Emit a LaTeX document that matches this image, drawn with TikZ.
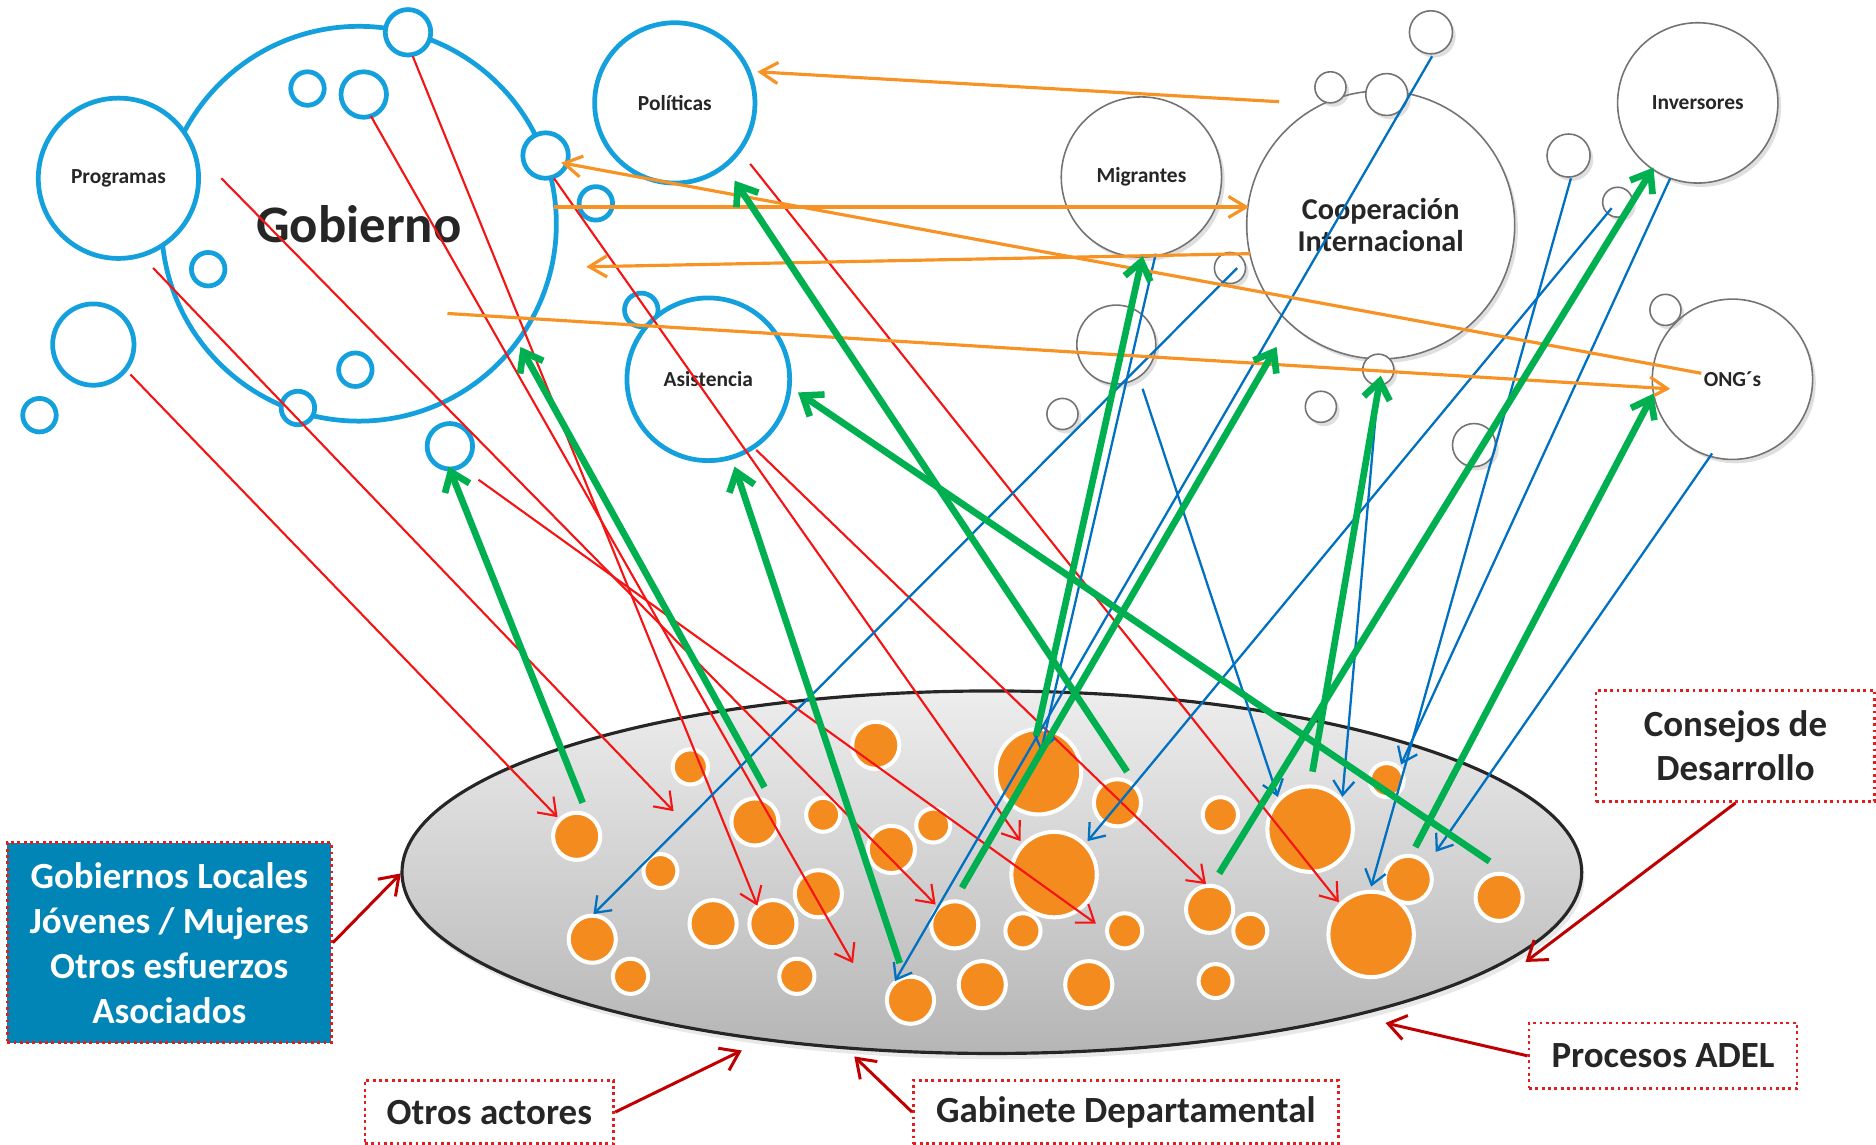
\documentclass[tikz,border=0pt]{standalone}
\usepackage{fontspec}
\setmainfont{Carlito}
\usetikzlibrary{arrows.meta,shapes.geometric,shadows}
\definecolor{cblue}{RGB}{20,160,220}
\definecolor{orF}{RGB}{243,139,31}
\definecolor{orL}{RGB}{247,146,36}
\definecolor{redL}{RGB}{245,20,20}
\definecolor{grL}{RGB}{0,176,80}
\definecolor{blL}{RGB}{0,112,192}
\definecolor{dred}{RGB}{192,0,0}
\definecolor{boxblue}{RGB}{0,133,182}
\definecolor{txt}{RGB}{38,38,38}
\definecolor{gline}{RGB}{115,115,115}
\definecolor{dotred}{RGB}{225,30,30}
\tikzset{
 lbl/.style={text=txt,font=\bfseries\fontsize{6.1}{7}\selectfont},
 bcirc/.style={circle,draw=cblue,line width=1.35pt,fill=white,inner sep=0pt,minimum size={2*#1*0.011964cm},lbl},
 gcirc/.style={circle,draw=gline,line width=0.45pt,fill=white,inner sep=0pt,minimum size={2*#1*0.011964cm},
   drop shadow={shadow xshift=0.9pt,shadow yshift=-1.1pt,opacity=0.25},lbl},
 ocirc/.style={circle,fill=orF,draw=white,line width=1.15pt,inner sep=0pt,minimum size={(2*#1+3.4)*0.011964cm}},
 tbox/.style={draw=dotred,densely dotted,line width=0.8pt,fill=white,text=txt,align=center,inner sep=0pt,
   font=\bfseries\fontsize{10.5}{12.6}\selectfont},
 redarr/.style={draw=redL,line width=0.6pt,-{Straight Barb[length=4.5pt,width=6.5pt]}},
 bluarr/.style={draw=blL,line width=0.65pt,-{Straight Barb[length=4pt,width=6pt]}},
 orarr/.style={draw=orL,line width=0.9pt,-{Straight Barb[length=5pt,width=6pt]}},
 grarr/.style={draw=grL,line width=1.9pt,-{Straight Barb[length=5pt,width=7.5pt]}},
 drarr/.style={draw=dred,line width=0.85pt,-{Straight Barb[length=5pt,width=7pt]}},
}
\begin{document}
\begin{tikzpicture}[x=0.011964cm,y=-0.011964cm]
\path[use as bounding box] (0,0) rectangle (1568,957);

% ---------- grey (external) circles ----------
\node[gcirc=67] (mig) at (954,148) {Migrantes};
\node[gcirc=112,font=\bfseries\fontsize{8.6}{9.2}\selectfont,align=center] (coop) at (1154,188) {Cooperación\\Internacional};
\node[gcirc=67] (inv) at (1419,86) {Inversores};
\node[gcirc=67] (ong) at (1448,317) {ONG´s};
\node[gcirc=18] (gs1) at (1196,27) {};
\node[gcirc=13] (gs2) at (1112,73) {};
\node[gcirc=17.5] (gs3) at (1159,79) {};
\node[gcirc=18] (gs4) at (1311,130) {};
\node[gcirc=12.5] (gs5) at (1352,169) {};
\node[gcirc=13] (gs6) at (1028,224) {};
\node[gcirc=33] (gs7) at (933,288) {};
\node[gcirc=13] (gs8) at (888,346) {};
\node[gcirc=13] (gs9) at (1152,309) {};
\node[gcirc=13] (gs10) at (1104,340) {};
\node[gcirc=13] (gs11) at (1392,259) {};
\node[gcirc=18] (gs12) at (1232,372) {};

% ---------- blue (government) circles ----------
\node[bcirc=165,font=\bfseries\fontsize{15}{18}\selectfont] (gob) at (300,187) {Gobierno};
\node[bcirc=67] (prog) at (99,149) {Programas};
\node[bcirc=19] (bs1) at (341,27) {};
\node[bcirc=14] (bs2) at (257,74) {};
\node[bcirc=19] (bs3) at (304,79) {};
\node[bcirc=19] (bs4) at (456,130) {};
\node[bcirc=14] (bs5) at (498,170) {};
\node[bcirc=14] (bs6) at (174,225) {};
\node[bcirc=34] (bs7) at (78,288) {};
\node[bcirc=14] (bs8) at (33,347) {};
\node[bcirc=14] (bs9) at (297,309) {};
\node[bcirc=14] (bs10) at (249,341) {};
\node[bcirc=19] (bs11) at (376,373) {};
\node[bcirc=14] (bs12) at (536,259) {};
\node[bcirc=67] (pol) at (564,86) {Políticas};
\node[bcirc=68] (asis) at (592,317) {Asistencia};

% ---------- territory ellipse ----------
\node[ellipse,draw=black!85,line width=0.9pt,top color=black!7,bottom color=black!29,
  minimum width={986*0.011964cm},minimum height={303*0.011964cm},inner sep=0pt,
  drop shadow={shadow xshift=0.8pt,shadow yshift=-1.6pt,opacity=0.18}] (ell) at (829,729) {};

% ---------- orange local actors ----------
\node[ocirc=18] (o1) at (482,699) {};
\node[ocirc=13] (o2) at (577,641) {};
\node[ocirc=12.5] (o3) at (552,728) {};
\node[ocirc=18] (o4) at (495,785) {};
\node[ocirc=13] (o5) at (527,816) {};
\node[ocirc=18] (o6) at (631,687) {};
\node[ocirc=12.5] (o7) at (688,681) {};
\node[ocirc=18] (o8) at (732,623) {};
\node[ocirc=18] (o9) at (745,710) {};
\node[ocirc=12.5] (o10) at (780,690) {};
\node[ocirc=18] (o11) at (684,747) {};
\node[ocirc=18] (o12) at (596,772) {};
\node[ocirc=18] (o13) at (646,772) {};
\node[ocirc=13] (o14) at (666,816) {};
\node[ocirc=18] (o15) at (761,836) {};
\node[ocirc=18] (o16) at (821,823) {};
\node[ocirc=18] (o17) at (798,773) {};
\node[ocirc=13] (o18) at (855,778) {};
\node[ocirc=34] (o19) at (868,645) {};
\node[ocirc=34] (o20) at (881,731) {};
\node[ocirc=18] (o21) at (934,671) {};
\node[ocirc=13] (o22) at (940,778) {};
\node[ocirc=18] (o23) at (910,823) {};
\node[ocirc=13] (o24) at (1020,681) {};
\node[ocirc=18] (o25) at (1011,760) {};
\node[ocirc=12.5] (o26) at (1045,778) {};
\node[ocirc=12.5] (o27) at (1016,820) {};
\node[ocirc=34] (o28) at (1095,693) {};
\node[ocirc=34] (o29) at (1146,781) {};
\node[ocirc=12.5] (o30) at (1159,652) {};
\node[ocirc=18] (o31) at (1177,735) {};
\node[ocirc=18] (o32) at (1253,750) {};

% ---------- labelled boxes ----------
\node[tbox,fill=boxblue,text=white,minimum width={271*0.011964cm},minimum height={167*0.011964cm},
  font=\bfseries\fontsize{10.5}{12.8}\selectfont] (gl) at (141.5,788) {Gobiernos Locales\\Jóvenes / Mujeres\\Otros esfuerzos\\Asociados};
\node[tbox,minimum width={233*0.011964cm},minimum height={93*0.011964cm}] (cons) at (1450.5,623.5) {Consejos de\\Desarrollo};
\node[tbox,minimum width={224*0.011964cm},minimum height={55*0.011964cm}] (proc) at (1390,882.5) {Procesos ADEL};
\node[tbox,minimum width={355*0.011964cm},minimum height={53*0.011964cm}] (gab) at (941,929.5) {Gabinete Departamental};
\node[tbox,minimum width={208*0.011964cm},minimum height={53*0.011964cm}] (otr) at (409,929.5) {Otros actores};

% ---------- connector end points ----------
\coordinate (r1a) at (109,313);  \coordinate (r1b) at (466,683);
\coordinate (r2a) at (128,224);  \coordinate (r2b) at (563,678);
\coordinate (r3a) at (185,149);  \coordinate (r3b) at (782,756);
\coordinate (r4a) at (310,97);   \coordinate (r4b) at (713,805);
\coordinate (r5a) at (345,47);   \coordinate (r5b) at (633,757);
\coordinate (r6a) at (463,149);  \coordinate (r6b) at (853,703);
\coordinate (r7a) at (400,401);  \coordinate (r7b) at (916,772);
\coordinate (r8a) at (632,376);  \coordinate (r8b) at (1008,739);
\coordinate (r9a) at (627,137);  \coordinate (r9b) at (1119,754);

\coordinate (u1a) at (1197,47);  \coordinate (u1b) at (748,820);
\coordinate (u2a) at (1034,224); \coordinate (u2b) at (496,764);
\coordinate (u3a) at (966,212);  \coordinate (u3b) at (870,628);
\coordinate (u4a) at (955,325);  \coordinate (u4b) at (1068,666);
\coordinate (u5a) at (1313,149); \coordinate (u5b) at (1146,741);
\coordinate (u6a) at (1347,174); \coordinate (u6b) at (909,703);
\coordinate (u7a) at (1396,149); \coordinate (u7b) at (1171,639);
\coordinate (u8a) at (1431,379); \coordinate (u8b) at (1200,712);
\coordinate (u9a) at (1152,322); \coordinate (u9b) at (1122,666);

\coordinate (p1a) at (1069,85);  \coordinate (p1b) at (633,60);
\coordinate (p2a) at (463,173);  \coordinate (p2b) at (1044,173);
\coordinate (p3a) at (1045,212); \coordinate (p3b) at (490,223);
\coordinate (p4a) at (1422,312); \coordinate (p4b) at (469,136);
\coordinate (p5a) at (374,262);  \coordinate (p5b) at (1396,325);

\coordinate (g1a) at (487,671);  \coordinate (g1b) at (375,390);
\coordinate (g2a) at (639,658);  \coordinate (g2b) at (435,290);
\coordinate (g3a) at (752,805);  \coordinate (g3b) at (614,390);
\coordinate (g4a) at (942,645);  \coordinate (g4b) at (614,151);
\coordinate (g5a) at (1245,720); \coordinate (g5b) at (667,328);
\coordinate (g6a) at (866,615);  \coordinate (g6b) at (955,214);
\coordinate (g7a) at (804,742);  \coordinate (g7b) at (1067,290);
\coordinate (g8a) at (1097,645); \coordinate (g8b) at (1154,314);
\coordinate (g9a) at (1019,730); \coordinate (g9b) at (1382,140);
\coordinate (g10a) at (1183,708);\coordinate (g10b) at (1382,329);

\coordinate (d1b) at (335,730);
\coordinate (d2b) at (620,878);
\coordinate (d3b) at (714,883);
\coordinate (d4b) at (1158,855);
\coordinate (d5b) at (1275,804);

% ---------- connectors ----------
\foreach \i in {1,...,9} {\draw[redarr] (r\i a) -- (r\i b);}
\foreach \i in {1,...,9} {\draw[bluarr] (u\i a) -- (u\i b);}
\foreach \i in {1,...,5} {\draw[orarr] (p\i a) -- (p\i b);}
\foreach \i in {1,...,10} {\draw[grarr] (g\i a) -- (g\i b);}

\draw[drarr] (gl.east) -- (d1b);
\draw[drarr] (otr.east) -- (d2b);
\draw[drarr] (gab.west) -- (d3b);
\draw[drarr] (proc.west) -- (d4b);
\draw[drarr] (cons.south) -- (d5b);
\end{tikzpicture}
\end{document}
